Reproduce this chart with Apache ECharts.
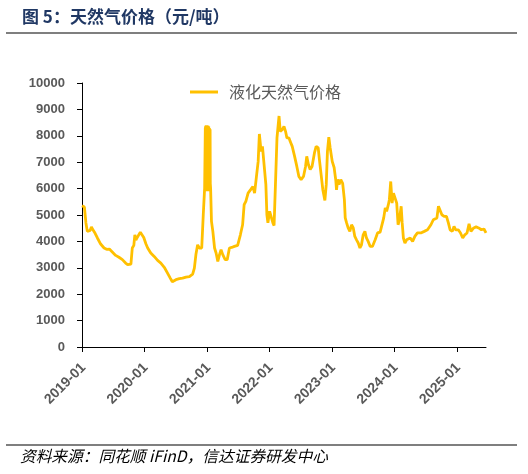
<!DOCTYPE html>
<html>
<head>
<meta charset="utf-8">
<script src="https://cdn.jsdelivr.net/npm/echarts@6/dist/echarts.min.js"></script>
<style>
html,body{margin:0;padding:0;background:#fff;}
#chart{width:528px;height:474px;}
</style>
</head>
<body>
<div id="chart"></div>
<script>
var titleText = '图 5：天然气价格（元/吨）';
var sourceText = '资料来源：同花顺 iFinD，信达证券研发中心';
var seriesName = '液化天然气价格';
var yTicks = [0, 1000, 2000, 3000, 4000, 5000, 6000, 7000, 8000, 9000, 10000];

var dates = [
'2019-01-01','2019-01-08','2019-01-15','2019-01-24','2019-02-01','2019-02-10','2019-02-18','2019-02-25','2019-03-05','2019-03-15',
'2019-04-01','2019-04-20','2019-05-10','2019-05-25','2019-06-10','2019-06-27','2019-07-17','2019-08-05','2019-08-25','2019-09-13',
'2019-09-25','2019-10-05','2019-10-14','2019-10-22','2019-10-31','2019-11-06','2019-11-12','2019-11-20','2019-11-28','2019-12-08',
'2019-12-16','2019-12-28',
'2020-01-10','2020-01-20','2020-02-07','2020-02-27','2020-03-18','2020-04-06','2020-04-26','2020-05-15','2020-05-31','2020-06-12',
'2020-06-20','2020-07-03','2020-07-23','2020-08-11','2020-08-31','2020-09-20','2020-10-09','2020-10-19','2020-10-28','2020-11-07',
'2020-11-17','2020-12-01','2020-12-10','2020-12-18','2020-12-22','2020-12-23','2020-12-24','2020-12-25','2020-12-26','2020-12-27',
'2020-12-28','2020-12-29','2020-12-30','2020-12-31',
'2021-01-01','2021-01-02','2021-01-03','2021-01-04','2021-01-05','2021-01-06','2021-01-07','2021-01-08','2021-01-09','2021-01-10',
'2021-01-11','2021-01-12','2021-01-13','2021-01-14','2021-01-15','2021-01-16','2021-01-17','2021-01-18','2021-01-19','2021-01-20',
'2021-01-22','2021-01-27','2021-02-04','2021-02-14','2021-02-23','2021-03-05','2021-03-15','2021-03-24','2021-04-03','2021-04-17',
'2021-04-29','2021-05-12','2021-05-25','2021-06-10','2021-06-29','2021-07-15','2021-07-28','2021-08-06','2021-08-16','2021-08-29',
'2021-09-13','2021-09-26','2021-10-06','2021-10-17','2021-10-27','2021-11-03','2021-11-13','2021-11-21','2021-12-02','2021-12-11',
'2021-12-17','2021-12-23',
'2022-01-02','2022-01-12','2022-01-21','2022-01-28','2022-02-05','2022-02-14','2022-02-26','2022-03-05','2022-03-17','2022-03-27',
'2022-04-05','2022-04-13','2022-04-25','2022-05-02','2022-05-14','2022-05-28','2022-06-10','2022-06-22','2022-07-05','2022-07-19',
'2022-07-31','2022-08-07','2022-08-17','2022-08-27','2022-09-07','2022-09-21','2022-10-01','2022-10-13','2022-10-20','2022-10-30',
'2022-11-09','2022-11-21','2022-11-29','2022-12-06','2022-12-14','2022-12-22',
'2023-01-03','2023-01-14','2023-01-24','2023-01-28','2023-02-04','2023-02-12','2023-02-22','2023-03-05','2023-03-15','2023-03-20',
'2023-03-28','2023-04-06','2023-04-16','2023-04-26','2023-05-06','2023-05-15','2023-05-25','2023-06-04','2023-06-14','2023-06-23',
'2023-07-03','2023-07-13','2023-07-22','2023-08-01','2023-08-13','2023-08-26','2023-09-11','2023-09-25','2023-10-10','2023-10-21',
'2023-10-31','2023-11-09','2023-11-17','2023-11-27','2023-12-03','2023-12-11','2023-12-19','2023-12-27',
'2024-01-05','2024-01-15','2024-01-23','2024-01-31','2024-02-10','2024-02-16','2024-02-23','2024-03-03','2024-03-13','2024-03-24',
'2024-04-03','2024-04-17','2024-04-30','2024-05-15','2024-06-04','2024-06-24','2024-07-13','2024-08-02','2024-08-16','2024-08-27',
'2024-09-06','2024-09-15','2024-09-25','2024-10-05','2024-10-18','2024-11-01','2024-11-12','2024-11-22','2024-12-05','2024-12-15',
'2024-12-25',
'2025-01-09','2025-01-22','2025-02-04','2025-02-16','2025-03-01','2025-03-13','2025-03-24','2025-04-09','2025-04-23','2025-05-08',
'2025-05-24','2025-06-08','2025-06-20'
];

var prices = [
5350,5420,5300,4700,4380,4320,4420,4550,4450,4350,
4130,3900,3750,3700,3710,3600,3470,3400,3310,3180,
3120,3090,3140,3750,3850,4250,4050,4150,4220,4350,
4300,4150,
3900,3750,3560,3430,3280,3180,3020,2800,2610,2470,
2420,2550,2590,2610,2650,2670,2760,2990,3500,3870,
3750,3750,5010,6020,8300,6100,8380,5950,8350,6000,
8400,5900,8350,6050,
8400,6200,8300,5950,8350,6000,8380,6100,8300,5900,
8350,6100,8250,6000,8300,6300,8200,6000,8250,6200,
6000,4760,4380,3750,3560,3240,3500,3690,3500,3310,
3310,3750,3770,3810,3850,4250,4630,5390,5520,5830,
5960,6080,5830,6460,7030,8070,7410,7600,7540,6150,
5010,4700,
5140,5140,4700,4600,6150,7920,8750,8170,8230,8360,
8170,7920,7920,7790,7600,7220,6840,6460,6340,6460,
6840,7220,6900,6720,6840,7350,7600,7540,7100,6530,
5960,5550,6150,7410,7950,7540,
7030,6800,6300,5950,6350,6150,6340,6200,5580,4890,
4700,4510,4380,4630,4510,4190,4060,3940,3750,3870,
4250,4380,4130,4000,3810,3810,4060,4320,4350,4380,
4890,5270,5140,5390,5580,6270,5450,5830,
5770,5450,4630,4820,5330,4700,4130,3940,4060,4060,
4130,4000,4190,4320,4320,4380,4440,4630,4820,4850,
4890,5330,5270,5010,4950,4950,4700,4440,4380,4570,
4440,
4440,4320,4130,4250,4320,4670,4380,4510,4550,4510,
4440,4470,4320
];

var seriesData = dates.map(function (d, i) { return [d, prices[i]]; });

var chart = echarts.init(document.getElementById('chart'), null, {renderer: 'canvas'});
var labelFont = '"Liberation Sans", Arial, sans-serif';
var cjkFont = '"Noto Sans CJK SC", "Liberation Sans", sans-serif';

chart.setOption({
  animation: false,
  backgroundColor: '#ffffff',
  title: {
    text: titleText,
    left: 17,
    top: 3,
    textStyle: {fontFamily: cjkFont, fontSize: 17, fontWeight: 'bold', color: '#203864'}
  },
  graphic: [
    {type: 'line', shape: {x1: 6, y1: 33, x2: 517, y2: 33}, style: {stroke: '#7f7f7f', lineWidth: 2}},
    {type: 'line', shape: {x1: 6, y1: 445, x2: 517, y2: 445}, style: {stroke: '#7f7f7f', lineWidth: 2}},
    {type: 'text', left: 20, top: 448, style: {text: sourceText, font: 'italic 15.7px ' + cjkFont, fill: '#000000'}}
  ],
  legend: {
    left: 190,
    top: 84,
    padding: 0,
    icon: 'rect',
    itemWidth: 28,
    itemHeight: 3,
    textStyle: {fontFamily: cjkFont, fontSize: 16, color: '#595959', padding: [0, 0, 0, 6]},
    data: [seriesName]
  },
  grid: {left: 82, right: 42, top: 83, bottom: 127, containLabel: false},
  xAxis: {
    type: 'time',
    min: dates[0],
    max: dates[dates.length - 1],
    splitNumber: 6,
    minInterval: 365 * 24 * 3600 * 1000,
    axisLine: {lineStyle: {color: '#000000', width: 1}},
    axisTick: {length: 5, lineStyle: {color: '#000000'}},
    splitLine: {show: false},
    axisLabel: {
      rotate: 45,
      margin: 10,
      verticalAlign: 'top',
      padding: [0, 5, 0, 0],
      fontFamily: labelFont,
      fontSize: 14,
      fontWeight: 'bold',
      color: '#595959',
      hideOverlap: false,
      formatter: function (val) {
        var d = new Date(val);
        if (d.getMonth() === 0 && d.getDate() === 1) {
          return d.getFullYear() + '-01';
        }
        return '';
      }
    }
  },
  yAxis: {
    type: 'value',
    min: yTicks[0],
    max: yTicks[yTicks.length - 1],
    interval: yTicks[1] - yTicks[0],
    axisLine: {show: true, lineStyle: {color: '#000000', width: 1}},
    axisTick: {show: true, length: 5, lineStyle: {color: '#000000'}},
    splitLine: {show: false},
    axisLabel: {
      margin: 17, fontFamily: labelFont, fontSize: 13, fontWeight: 'bold', color: '#595959',
      formatter: function (v) { return String(v); }
    }
  },
  series: [{
    name: seriesName,
    type: 'line',
    data: seriesData,
    symbol: 'none',
    showSymbol: false,
    lineStyle: {color: '#FFC000', width: 2.8},
    itemStyle: {color: '#FFC000'}
  }]
});
</script>
</body>
</html>
